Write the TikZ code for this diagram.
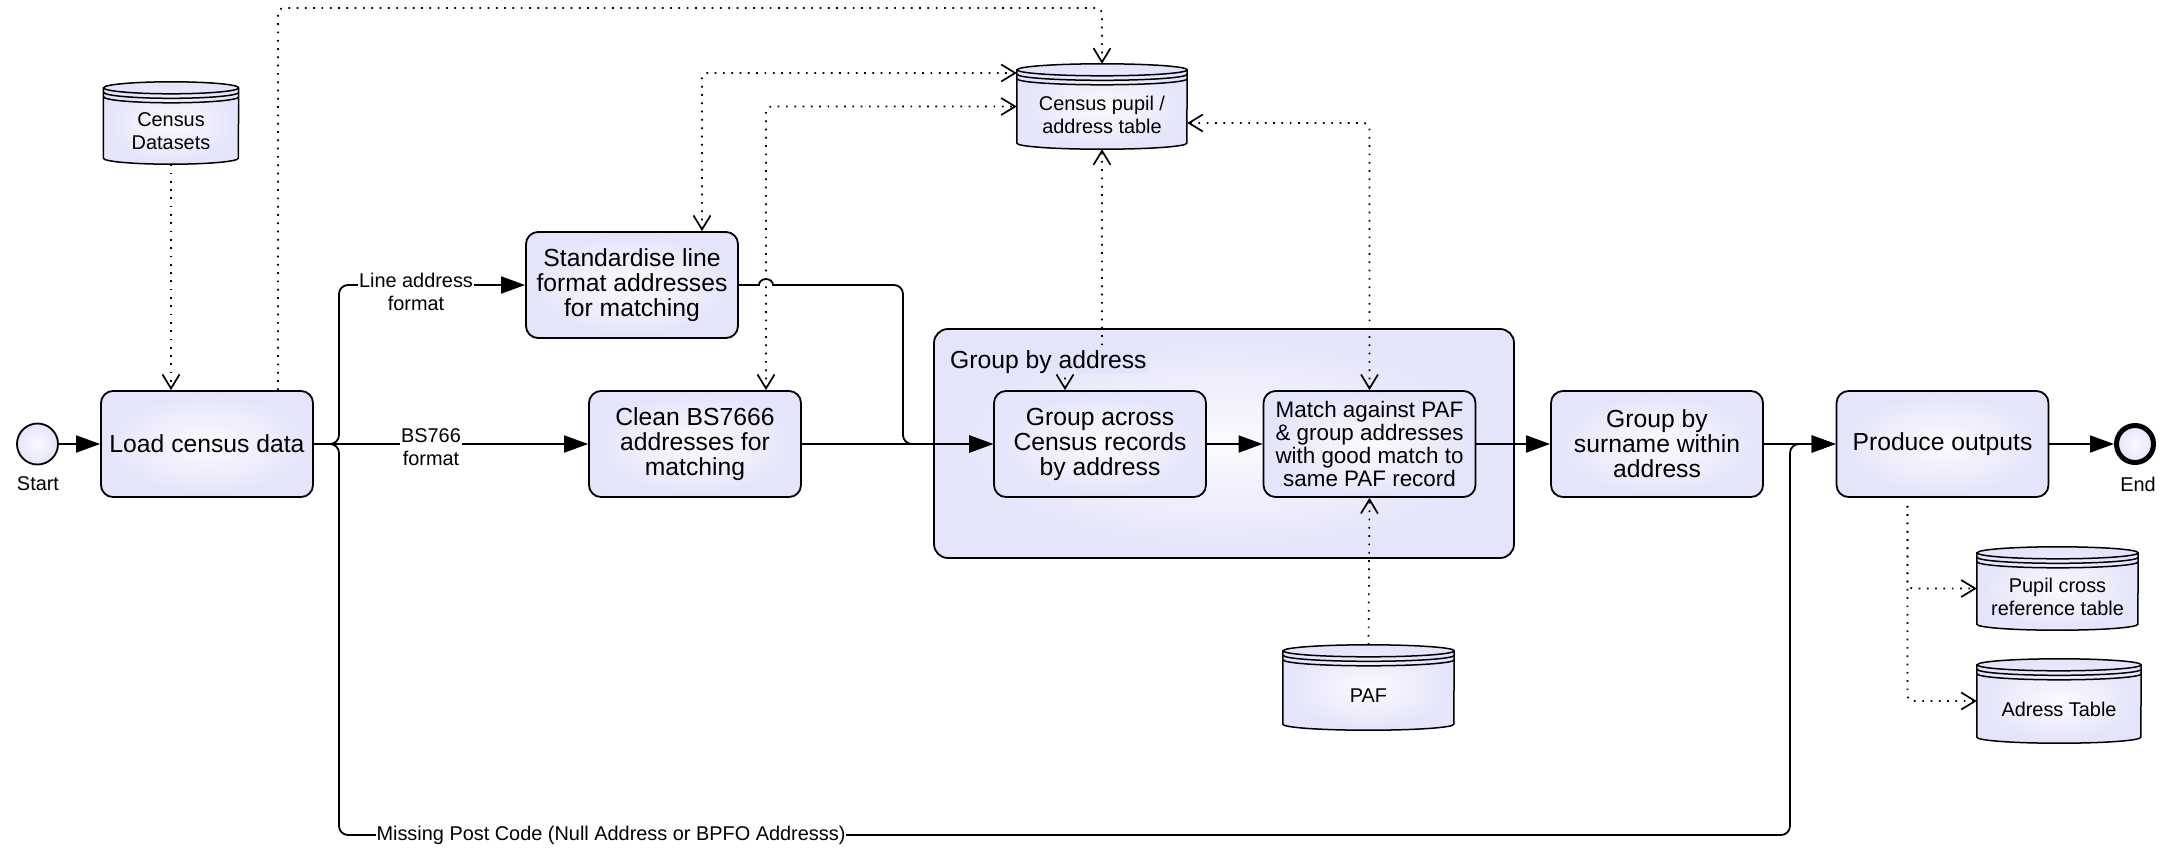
\documentclass[tikz,border=0pt]{standalone}
\usepackage{fontspec}
\setmainfont{Liberation Sans}
\usetikzlibrary{positioning,arrows.meta,calc}

\definecolor{taskfill}{RGB}{228,228,250}
\definecolor{taskglow}{RGB}{250,250,255}

\newcommand{\taskfont}{\fontsize{24.7}{25}\selectfont}
\newcommand{\matchfont}{\fontsize{22.4}{23}\selectfont}
\newcommand{\notefont}{\fontsize{19.9}{23}\selectfont}

% data store: cylinder with a triple rim, text set a little low
\newcommand{\datastore}[5]{%
  \node[storebox, minimum width=#3pt, minimum height=#4pt] (#1) at #2 {};
  \path[storeline, inner color=taskglow, outer color=taskfill]
    ($(#1.north west)+(0,6)$) -- ($(#1.south west)+(0,-6)$)
    arc[start angle=180, end angle=0, x radius=#3/2, y radius=6]
    -- ($(#1.north east)+(0,6)$)
    arc[start angle=0, end angle=-180, x radius=#3/2, y radius=6] -- cycle;
  \foreach \rim in {6,10.5,15}
    \draw[storeline] ($(#1.north east)+(0,\rim)$)
      arc[start angle=0, end angle=180, x radius=#3/2, y radius=6];
  \node[storetext] (#1 text) at ($(#1.center)+(0,8)$) {#5};
}

\begin{document}
\begin{tikzpicture}[x=1pt, y=-1pt,
  task/.style={draw, line width=1.8pt, rounded corners=12pt, minimum width=212pt,
    minimum height=106pt, inner sep=2pt, align=center, font=\taskfont,
    inner color=taskglow, outer color=taskfill},
  group/.style={draw, line width=1.8pt, rounded corners=14pt, minimum width=580pt,
    minimum height=229pt, inner color=taskglow, outer color=taskfill},
  grouplabel/.style={font=\taskfont, fill=taskfill, inner sep=1pt},
  storebox/.style={inner sep=0pt},
  storeline/.style={draw, line width=1.5pt},
  storetext/.style={align=center, font=\notefont, inner sep=0pt},
  event/.style={circle, draw, line width=1.8pt, minimum size=41pt, inner sep=0pt,
    inner color=taskglow, outer color=taskfill},
  endevent/.style={event, line width=5pt, minimum size=37pt},
  eventlabel/.style={font=\notefont, inner sep=0pt},
  flow/.style={line width=1.8pt, -{Triangle[length=24pt, width=17pt]}},
  flowlabel/.style={font=\notefont, align=center, fill=white, inner sep=1pt},
  assoc/.style={line width=1.7pt, dash pattern=on 1.7pt off 6.6pt, rounded corners=5pt},
  >={Straight Barb[length=14pt, width=17pt]},
]
\useasboundingbox (0,0) rectangle (2171,847);

% sub-process frame
\node[group] (grp) at (1224,443.5) {};

% tasks and events
\node[event] (start) at (37.5,444) {};
\node[eventlabel] (start label) at (38,484) {Start};
\node[task] (load) at (207,444) {Load census data};
\node[task] (stand) at (632,285) {Standardise line\\format addresses\\for matching};
\node[task] (clean) at (695,444) {Clean BS7666\\addresses for\\matching};
\node[task] (across) at (1100,444) {Group across\\Census records\\by address};
\node[task, font=\matchfont] (match) at (1369.5,444) {Match against PAF\\\& group addresses\\with good match to\\same PAF record};
\node[task] (surname) at (1657,444) {Group by\\surname within\\address};
\node[task] (produce) at (1942.5,444) {Produce outputs};
\node[endevent] (end) at (2135,444) {};
\node[eventlabel] (end label) at (2138,484) {End};

% data stores
\datastore{cdata}{(171,123)}{135}{82}{Census\\Datasets}
\datastore{cpupil}{(1102,106.5)}{170}{85}{Census pupil /\\address table}
\datastore{paf}{(1368.5,687.5)}{171}{85}{PAF}
\datastore{pupilx}{(2057.5,588.5)}{161}{83}{Pupil cross\\reference table}
\datastore{adrtab}{(2059,701)}{164}{84}{Adress Table}

% sequence flow
\coordinate (fork) at (339,444);
\coordinate (lowrun) at (339,835);
\coordinate (join) at (1790,444);
\coordinate (bend) at (903,444);
\coordinate (hop) at (759,285);

\draw[flow] (start) -- (load);
\draw[flow] (load) -- (clean);
\draw[flow, rounded corners=9pt] (load.east) -- (fork) |- (stand.west);
\draw[flow, rounded corners=9pt] (load.east) -- (fork) -- (lowrun) -| (join) -- (produce.west);
\draw[flow] (stand.east) -- (hop) arc[start angle=180, end angle=360, x radius=7, y radius=6]
  [rounded corners=9pt] -- (bend |- stand.east) -- (bend) -- (across.west);
\draw[flow] (clean) -- (across);
\draw[flow] (across) -- (match);
\draw[flow] (match) -- (surname);
\draw[flow] (surname) -- (produce);
\draw[flow] (produce) -- (end);

\node[flowlabel] (line label) at (416,292) {Line address\\format};
\node[flowlabel] (bs label) at (431,447) {BS766\\format};
\node[flowlabel] (missing label) at (611,835) {Missing Post Code (Null Address or BPFO Addresss)};

% associations
\coordinate (overhead) at (0,8);
\coordinate (jog) at (1102,358);
\draw[assoc, ->] (cdata.south) -- (cdata.south |- load.north);
\draw[assoc, ->] ([xshift=71pt]load.north) |- (overhead -| cpupil.north) -- (cpupil.north);
\draw[assoc, <->] ([xshift=70pt]stand.north) |- ([yshift=33.5pt]cpupil.west);
\draw[assoc, <->] ([xshift=71pt]clean.north) |- (cpupil.west);
\draw[assoc, <->] ([xshift=-35pt]across.north) |- (jog) -- (cpupil.south);
\draw[assoc, <->] (match.north) |- ([yshift=-16.5pt]cpupil.east);
\draw[assoc, ->] (paf.north) -- (match.south);
\draw[assoc, ->] ([xshift=-35pt,yshift=-8pt]produce.south) |- (pupilx.west);
\draw[assoc, ->] ([xshift=-35pt,yshift=-8pt]produce.south) |- (adrtab.west);

\node[grouplabel, anchor=base west] (grp label) at (949,368) {Group by address};
\end{tikzpicture}
\end{document}
